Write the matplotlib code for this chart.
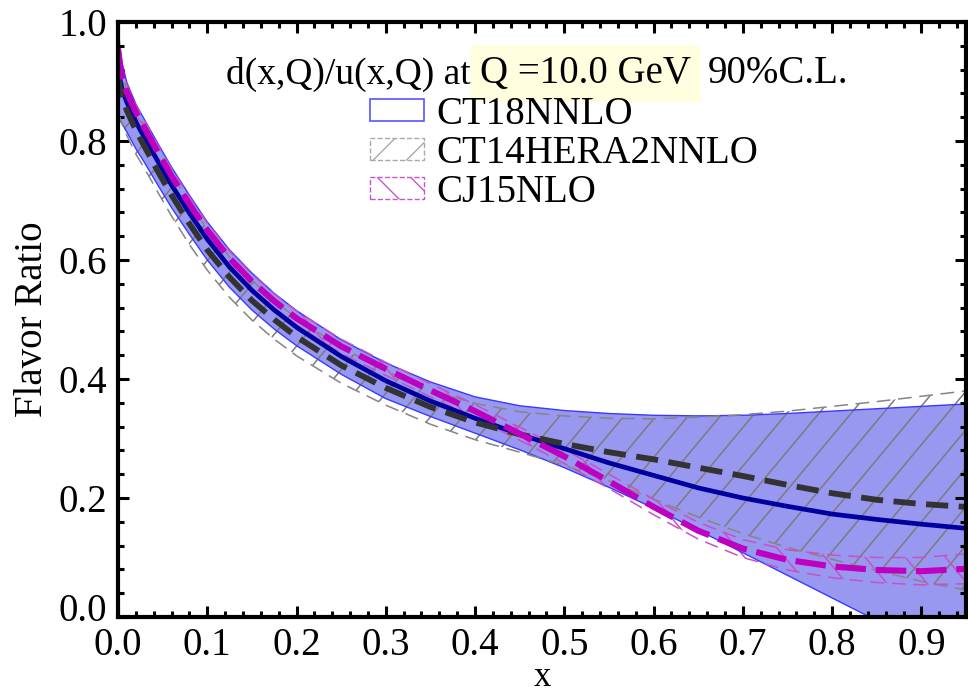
import numpy as np
import matplotlib
matplotlib.use("Agg")
import matplotlib.pyplot as plt
from matplotlib.patches import Patch
from matplotlib.transforms import ScaledTranslation

plt.rcParams["font.family"] = ["Liberation Serif", "DejaVu Serif"]

# momentum fraction grid
x = [0.0, 0.002, 0.005, 0.01, 0.02, 0.03, 0.045, 0.06, 0.08, 0.1, 0.125, 0.15, 0.175, 0.2,
     0.25, 0.3, 0.35, 0.4, 0.45, 0.5, 0.55, 0.6, 0.65, 0.7, 0.75, 0.8, 0.85, 0.9, 0.95]

# CT18NNLO d/u central value and 90% C.L. band
ct18_mid = [0.93, 0.905, 0.885, 0.865, 0.832, 0.805, 0.765, 0.726, 0.679, 0.635, 0.588, 0.549, 0.516, 0.487,
            0.438, 0.397, 0.363, 0.334, 0.307, 0.283, 0.259, 0.238, 0.217, 0.200, 0.186, 0.173, 0.164, 0.156, 0.149]
ct18_hi = [1.0, 0.96, 0.928, 0.898, 0.862, 0.835, 0.795, 0.756, 0.709, 0.664, 0.617, 0.578, 0.544, 0.515,
           0.466, 0.427, 0.395, 0.37, 0.355, 0.347, 0.342, 0.339, 0.338, 0.339, 0.342, 0.346, 0.35, 0.354, 0.358]
ct18_lo = [0.84, 0.835, 0.828, 0.815, 0.787, 0.763, 0.725, 0.688, 0.643, 0.600, 0.554, 0.516, 0.484, 0.456,
           0.408, 0.367, 0.337, 0.309, 0.281, 0.251, 0.218, 0.183, 0.146, 0.108, 0.07, 0.032, -0.006, -0.044, -0.08]

# CT14HERA2NNLO
ct14_mid = [0.91, 0.89, 0.87, 0.851, 0.818, 0.79, 0.748, 0.709, 0.661, 0.617, 0.571, 0.532, 0.50, 0.471,
            0.423, 0.385, 0.353, 0.327, 0.307, 0.291, 0.277, 0.265, 0.251, 0.237, 0.222, 0.208, 0.197, 0.19, 0.185]
ct14_hi = [0.97, 0.935, 0.91, 0.884, 0.852, 0.825, 0.784, 0.744, 0.696, 0.652, 0.605, 0.566, 0.532, 0.502,
           0.453, 0.414, 0.381, 0.359, 0.345, 0.338, 0.334, 0.333, 0.336, 0.34, 0.346, 0.354, 0.362, 0.371, 0.38]
ct14_lo = [0.845, 0.84, 0.827, 0.809, 0.778, 0.753, 0.713, 0.674, 0.626, 0.583, 0.537, 0.499, 0.467, 0.439,
           0.393, 0.356, 0.324, 0.298, 0.277, 0.255, 0.229, 0.198, 0.168, 0.14, 0.117, 0.097, 0.078, 0.06, 0.045]

# CJ15NLO
cj15_mid = [0.955, 0.93, 0.905, 0.882, 0.848, 0.821, 0.78, 0.741, 0.694, 0.65, 0.603, 0.564, 0.531, 0.502,
            0.455, 0.417, 0.381, 0.346, 0.308, 0.27, 0.228, 0.185, 0.145, 0.115, 0.096, 0.085, 0.079, 0.077, 0.081]
cj15_hi = [0.97, 0.944, 0.918, 0.894, 0.86, 0.833, 0.792, 0.753, 0.706, 0.662, 0.615, 0.576, 0.543, 0.514,
           0.467, 0.428, 0.392, 0.357, 0.319, 0.282, 0.24, 0.198, 0.159, 0.13, 0.113, 0.104, 0.10, 0.10, 0.106]
cj15_lo = [0.94, 0.916, 0.892, 0.87, 0.836, 0.809, 0.768, 0.729, 0.682, 0.638, 0.591, 0.552, 0.519, 0.49,
           0.443, 0.406, 0.37, 0.335, 0.297, 0.258, 0.216, 0.172, 0.131, 0.10, 0.079, 0.066, 0.058, 0.054, 0.056]

labels = ["CT18NNLO", "CT14HERA2NNLO", "CJ15NLO"]

FS = 28


def hatch_band(ax, xs, lo, hi, slope, step, color, lw=1.0):
    """Fill a band with sparse diagonal lines clipped to the band."""
    poly = ax.fill_between(xs, lo, hi, facecolor="none", edgecolor="none")
    path = poly.get_paths()[0]
    run = 1.6 / abs(slope)
    for x0 in np.arange(-2.0, 1.5, step):
        if slope > 0:
            xx, yy = [x0, x0 + run], [-0.2, 1.4]
        else:
            xx, yy = [x0, x0 + run], [1.4, -0.2]
        ln, = ax.plot(xx, yy, color=color, lw=lw, zorder=poly.get_zorder())
        ln.set_clip_path(path, ax.transData)


fig = plt.figure(figsize=(9.68, 6.93), dpi=100)
ax = fig.add_axes([118 / 968, 76 / 693, 848 / 968, 595 / 693])

# CT18 band
ax.fill_between(x, ct18_lo, ct18_hi, facecolor="#9898f0", edgecolor="none", zorder=1)
ax.plot(x, ct18_hi, color="#3a3aff", lw=1.0, zorder=1.5)
ax.plot(x, ct18_lo, color="#3a3aff", lw=1.0, zorder=1.5)

# CT14 band: hatched, dashed edges
hatch_band(ax, x, ct14_lo, ct14_hi, slope=1.8, step=0.036, color="#7c7c7c", lw=1.1)
ax.plot(x, ct14_hi, color="#858585", lw=1.1, dashes=(9, 5), zorder=2)
ax.plot(x, ct14_lo, color="#858585", lw=1.1, dashes=(9, 5), zorder=2)

# CJ15 band
hatch_band(ax, x, cj15_lo, cj15_hi, slope=-1.8, step=0.045, color="#c850c8", lw=1.1)
ax.plot(x, cj15_hi, color="#c850c8", lw=1.1, dashes=(9, 5), zorder=2)
ax.plot(x, cj15_lo, color="#c850c8", lw=1.1, dashes=(9, 5), zorder=2)

# central values
ax.plot(x, ct18_mid, color="#0000a0", lw=3.4, zorder=3)
ax.plot(x, ct14_mid, color="#333333", lw=4.2, dashes=(3.8, 1.8), zorder=3.1)
ax.plot(x, cj15_mid, color="#c000c0", lw=4.4, dashes=(5.0, 1.6), zorder=3.2)

ax.set_xlim(0, 0.95)
ax.set_ylim(0, 1.0)
ax.set_xticks(np.arange(0, 0.95, 0.1))
ax.set_xticks(np.arange(0, 0.951, 0.02), minor=True)
ax.set_yticks(np.arange(0, 1.01, 0.2))
ax.set_yticks(np.arange(0, 1.01, 0.04), minor=True)
ax.xaxis.set_major_formatter(plt.FormatStrFormatter("%.1f"))
ax.yaxis.set_major_formatter(plt.FormatStrFormatter("%.1f"))
ax.tick_params(which="both", direction="in", top=True, right=True, labelsize=FS, width=2.2)
ax.tick_params(which="major", length=8, pad=8)
ax.tick_params(axis="x", which="major", pad=7)
ax.tick_params(which="minor", length=4)
for sp in ax.spines.values():
    sp.set_linewidth(3)
    sp.set_zorder(5)

# lift the bottom y label a little so it clears the x "0.0"
lab0 = ax.yaxis.get_major_ticks()[0].label1
lab0.set_transform(lab0.get_transform() + ScaledTranslation(0, 7 / 72, fig.dpi_scale_trans))

ax.set_xlabel("x", fontsize=25, va="baseline")
ax.xaxis.set_label_coords(0.5, -(685.5 - 617) / 595)
ax.set_ylabel("Flavor Ratio", fontsize=FS, labelpad=5)

# title line with highlighted scale
t1 = fig.text(226 / 968, 1 - 84 / 693, "d(x,Q)/u(x,Q) at", fontsize=27, va="baseline")
t2 = ax.annotate("Q =10.0 GeV", xy=(1, 0), xycoords=t1, xytext=(7, 0),
                 textcoords="offset points", fontsize=FS, va="bottom", ha="left",
                 bbox=dict(boxstyle="square,pad=0.25", fc="#ffffe0", ec="none"))
t1.set_zorder(6)
t3 = ax.annotate("90%C.L.", xy=(1, 0), xycoords=t2, xytext=(12, 0),
                 textcoords="offset points", fontsize=FS, va="bottom", ha="left")

handles = [
    Patch(facecolor="white", edgecolor="#5555ff", lw=1.2),
    Patch(facecolor="white", edgecolor="#aaaaaa", hatch="/", ls="--", lw=1.0),
    Patch(facecolor="white", edgecolor="#cc55cc", hatch="\\", ls="--", lw=1.0),
]
ax.legend(handles, labels, loc="upper left", bbox_to_anchor=(370 / 968, 1 - 96 / 693),
          bbox_transform=fig.transFigure, frameon=False, fontsize=FS,
          handlelength=1.4, handleheight=0.5, handletextpad=0.3,
          labelspacing=0.05, borderpad=0, borderaxespad=0)

fig.savefig("out.png", dpi=100)
